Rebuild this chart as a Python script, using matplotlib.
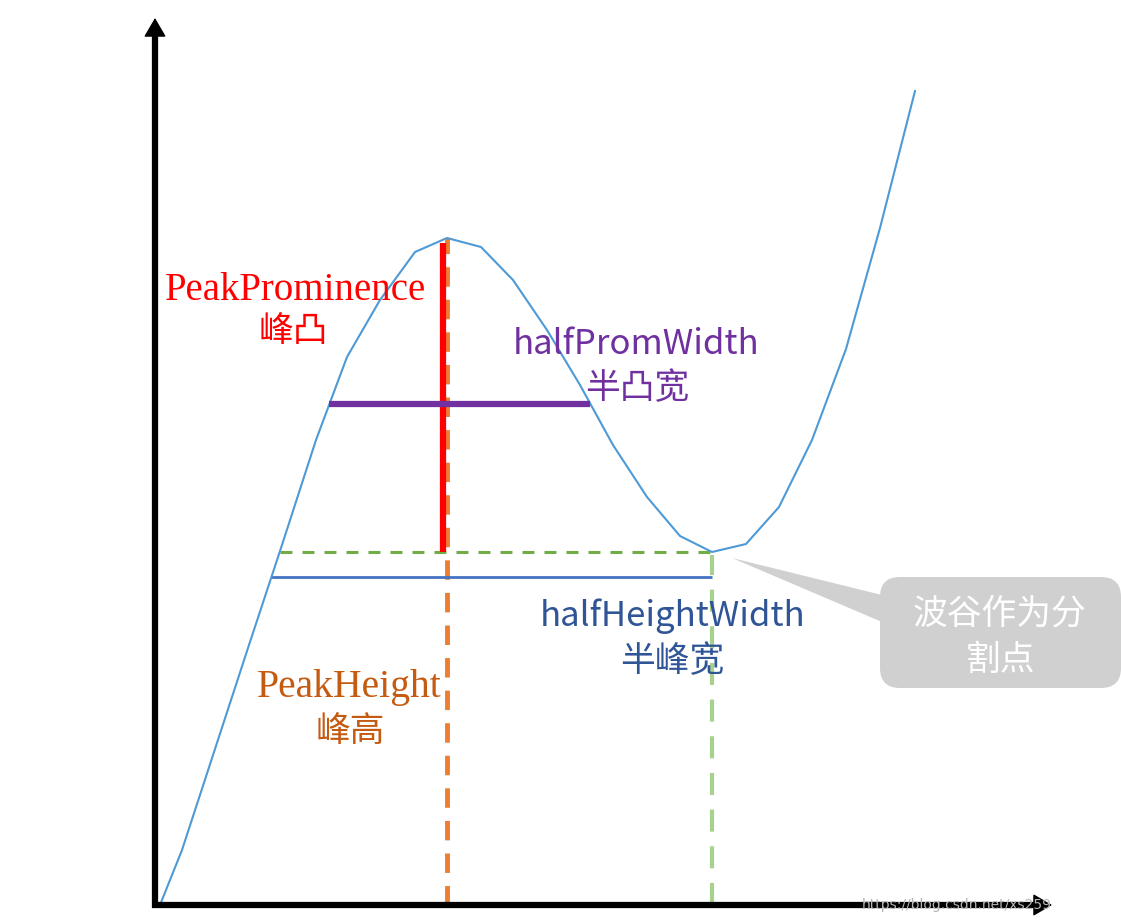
# peak.py
# Sketch of peak prominence / peak height / widths on one curve

import matplotlib.pyplot as plt
import numpy as np
from matplotlib.patches import FancyBboxPatch, Polygon

# curve samples (x right of the y axis, y above the x axis, in px)
curve_x = [5, 27, 60, 93, 126, 161, 192, 225, 260, 292, 326, 358,
           392, 425, 458, 492, 525, 557, 591, 624, 657, 691, 725, 760]
curve_y = [0, 55, 156, 257, 357, 465, 548, 605, 653, 667, 658, 625,
           575, 520, 460, 408, 369, 353, 361, 398, 465, 556, 677, 814]

# levels as drawn in the sketch
half_prom = 501
half_height = 328

labels_prom = ["PeakProminence", "峰凸"]
labels_height = ["PeakHeight", "峰高"]
labels_prom_w = ["halfPromWidth", "半凸宽"]
labels_height_w = ["halfHeightWidth", "半峰宽"]
callout_text = ["波谷作为分", "割点"]
watermark = "https://blog.csdn.net/xs259"

SERIF = ['Liberation Serif', 'Noto Sans CJK SC']
SANS = ['Noto Sans CJK SC', 'DejaVu Sans']


def crossing(xs, ys, level, lo, hi):
    # x where the curve passes `level` between sample lo and hi
    for i in range(lo, hi):
        y0, y1 = ys[i], ys[i + 1]
        if (y0 - level) * (y1 - level) <= 0 and y0 != y1:
            return xs[i] + (level - y0) / (y1 - y0) * (xs[i + 1] - xs[i])
    return xs[lo]


x = np.array(curve_x, dtype=float)
y = np.array(curve_y, dtype=float)

peak_i = int(np.argmax(y[:15]))
valley_i = peak_i + int(np.argmin(y[peak_i:20]))
peak_x, peak_y = x[peak_i], y[peak_i]
valley_x, valley_y = x[valley_i], y[valley_i]

prom_l = crossing(x, y, half_prom, 0, peak_i)
prom_r = crossing(x, y, half_prom, peak_i, valley_i)
height_l = crossing(x, y, half_height, 0, peak_i)
base_l = crossing(x, y, valley_y, 0, peak_i)

fig = plt.figure(figsize=(11.21, 9.24), dpi=100)
ax = fig.add_axes([0, 0, 1, 1])
ax.set_xlim(-155, 966)
ax.set_ylim(-19, 905)
ax.axis('off')

# curve
ax.plot(x, y, color='#4D9AD6', lw=1.5, zorder=3)

# peak height (orange dashed)
ax.plot([peak_x, peak_x], [0, peak_y], color='#ED7D31', lw=3.5,
        linestyle=(0, (4, 2.7)), zorder=2)
# peak prominence (red)
ax.plot([peak_x - 4, peak_x - 4], [valley_y, peak_y - 5], color='#FF0000',
        lw=4.5, solid_capstyle='butt', zorder=4)
# half prominence width (purple)
ax.plot([prom_l, prom_r], [half_prom, half_prom], color='#7030A0',
        lw=4.5, solid_capstyle='butt', zorder=5)
# valley level (green dashed)
ax.plot([base_l, valley_x], [valley_y, valley_y], color='#70AD47', lw=2.2,
        linestyle=(0, (3.9, 3.3)), zorder=2)
# valley drop (light green dashed)
ax.plot([valley_x, valley_x], [0, valley_y - 3], color='#A9D18E', lw=3,
        linestyle=(0, (5.3, 3.5)), zorder=2)
# half height width (blue)
ax.plot([height_l, valley_x], [half_height, half_height], color='#4472C4',
        lw=2, solid_capstyle='butt', zorder=2)

# axes with arrows
ax.plot([0, 0], [-3, 870], color='black', lw=4.5, solid_capstyle='butt', zorder=6)
ax.plot([-3, 880], [0, 0], color='black', lw=4.5, solid_capstyle='butt', zorder=6)
head = dict(arrowstyle='-|>,head_length=0.6,head_width=0.35', mutation_scale=20,
            lw=1, color='black', shrinkA=0, shrinkB=0)
ax.annotate('', xy=(0, 887), xytext=(0, 860), arrowprops=head, zorder=6)
ax.annotate('', xy=(897, 0), xytext=(870, 0), arrowprops=head, zorder=6)

# labels
ax.text(140, 615, labels_prom[0], color='#FF0000', fontsize=28, family=SERIF,
        ha='center', va='center')
ax.text(138, 573, labels_prom[1], color='#FF0000', fontsize=25, family=SANS,
        ha='center', va='center')
ax.text(194, 218, labels_height[0], color='#C55A11', fontsize=28.5, family=SERIF,
        ha='center', va='center')
ax.text(195, 173, labels_height[1], color='#C55A11', fontsize=25, family=SANS,
        ha='center', va='center')
ax.text(481, 561, labels_prom_w[0], color='#7030A0', fontsize=25, family=SANS,
        ha='center', va='center')
ax.text(482, 516, labels_prom_w[1], color='#7030A0', fontsize=25, family=SANS,
        ha='center', va='center')
ax.text(518, 289, labels_height_w[0], color='#2F5597', fontsize=25, family=SANS,
        ha='center', va='center')
ax.text(517, 243, labels_height_w[1], color='#2F5597', fontsize=25, family=SANS,
        ha='center', va='center')

# callout
box = FancyBboxPatch((725, 217), 241, 111, boxstyle='round,pad=0,rounding_size=20',
                     fc='#D0D0D0', ec='none', zorder=3)
ax.add_patch(box)
tip = (valley_x + 20, valley_y - 6)
ax.add_patch(Polygon([tip, (727, 310), (727, 283)], closed=True,
                     fc='#D0D0D0', ec='none', zorder=3))
ax.text(845, 291, callout_text[0], color='white', fontsize=25, family=SANS,
        ha='center', va='center', zorder=4)
ax.text(845, 245, callout_text[1], color='white', fontsize=25, family=SANS,
        ha='center', va='center', zorder=4)

ax.text(707, 0, watermark, color='#b5b5b5', fontsize=10, family=['DejaVu Sans'],
        ha='left', va='center', zorder=7)

plt.savefig("out.png")
